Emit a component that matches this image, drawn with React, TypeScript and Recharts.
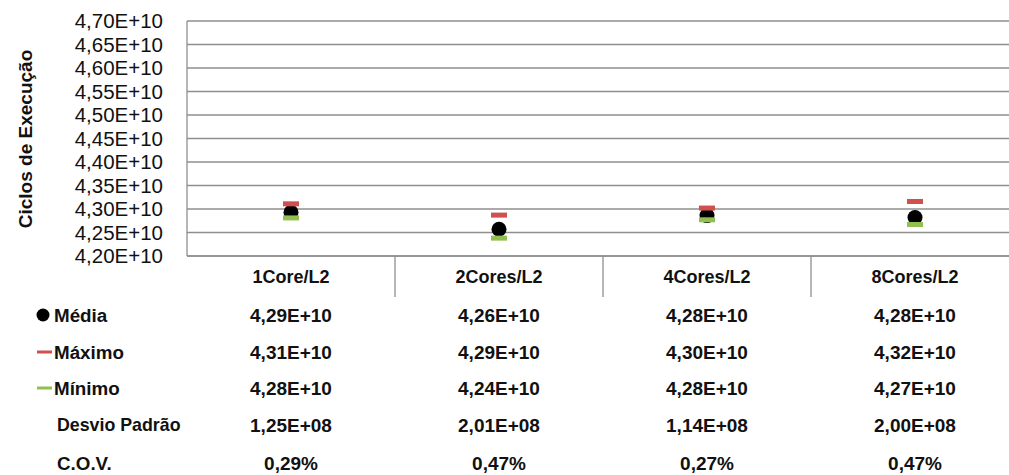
import React from 'react';
import { ComposedChart, Line, XAxis, YAxis, CartesianGrid } from 'recharts';

const categories = ['1Core/L2', '2Cores/L2', '4Cores/L2', '8Cores/L2'];
const mediaValues = [4.293e10, 4.257e10, 4.286e10, 4.282e10];
const maximoValues = [4.311e10, 4.287e10, 4.302e10, 4.316e10];
const minimoValues = [4.281e10, 4.238e10, 4.277e10, 4.267e10];

const mediaText = ['4,29E+10', '4,26E+10', '4,28E+10', '4,28E+10'];
const maximoText = ['4,31E+10', '4,29E+10', '4,30E+10', '4,32E+10'];
const minimoText = ['4,28E+10', '4,24E+10', '4,28E+10', '4,27E+10'];
const desvioText = ['1,25E+08', '2,01E+08', '1,14E+08', '2,00E+08'];
const covText = ['0,29%', '0,47%', '0,27%', '0,47%'];

const yTicks = [4.2e10, 4.25e10, 4.3e10, 4.35e10, 4.4e10, 4.45e10, 4.5e10, 4.55e10, 4.6e10, 4.65e10, 4.7e10];

const rowLabels = ['Média', 'Máximo', 'Mínimo', 'Desvio Padrão', 'C.O.V.'];

const data = categories.map((c, i) => ({
  cat: c,
  media: mediaValues[i],
  maximo: maximoValues[i],
  minimo: minimoValues[i],
}));

const FONT = "'Liberation Sans', Arial, sans-serif";
const GRID = '#8f8f8f';
const RED = '#d0504f';
const GREEN = '#92c050';
const TEXT = '#111111';

const ROW_OFFSETS = [59, 96, 132, 169, 207];

const fmtY = (v: number) => (v / 1e10).toFixed(2).replace('.', ',') + 'E+10';

const TableTick = (props: any) => {
  const { x, y, payload } = props;
  const i: number = payload?.index ?? props.index ?? 0;
  const half: number = payload?.offset || 104;
  const rows = [mediaText, maximoText, minimoText, desvioText, covText];
  return (
    <g>
      {i > 0 && <line x1={x - half} y1={y} x2={x - half} y2={y + 41} stroke={GRID} strokeWidth={1.3} />}
      {i === categories.length - 1 && (
        <line x1={x + half} y1={y} x2={x + half} y2={y + 41} stroke={GRID} strokeWidth={1.3} />
      )}
      <text x={x} y={y + 21} textAnchor="middle" dominantBaseline="central" fontFamily={FONT} fontSize={18} fontWeight={700} fill={TEXT}>
        {payload.value}
      </text>
      {rows.map((r, k) => (
        <text key={k} x={x} y={y + ROW_OFFSETS[k]} textAnchor="middle" dominantBaseline="central" fontFamily={FONT} fontSize={19} fontWeight={700} fill={TEXT}>
          {r[i]}
        </text>
      ))}
    </g>
  );
};

const makeDot = (kind: 'media' | 'max' | 'min') => (p: any) => {
  const { cx, cy, index } = p;
  if (cx == null || cy == null) return <g key={`${kind}-${index}`} />;
  if (kind === 'media') return <circle key={`${kind}-${index}`} cx={cx} cy={cy} r={7.5} fill="#000" />;
  return (
    <rect key={`${kind}-${index}`} x={cx - 8} y={cy - 2.5} width={16} height={5} fill={kind === 'max' ? RED : GREEN} />
  );
};

export default function App() {
  return (
    <div style={{ position: 'fixed', left: 0, top: 0, width: 1009, height: 475, overflow: 'hidden', background: '#fff' }}>
      <ComposedChart
        width={1030}
        height={475}
        data={data}
        margin={{ top: 21, right: 11, left: 0, bottom: 0 }}
      >
        <CartesianGrid vertical={false} stroke={GRID} strokeWidth={1.3} />
        <XAxis
          dataKey="cat"
          type="category"
          scale="band"
          height={219}
          axisLine={{ stroke: GRID, strokeWidth: 1.3 }}
          tickLine={false}
          tickSize={0}
          tickMargin={0}
          interval={0}
          tick={<TableTick />}
        />
        <YAxis
          type="number"
          domain={[4.2e10, 4.7e10]}
          ticks={yTicks}
          interval={0}
          allowDataOverflow
          width={187}
          axisLine={{ stroke: GRID, strokeWidth: 1.3 }}
          tickLine={false}
          tickSize={0}
          tickMargin={24}
          tickFormatter={fmtY}
          tick={{ fontFamily: FONT, fontSize: 20.5, fill: TEXT }}
        />
        <Line dataKey="media" stroke="none" isAnimationActive={false} dot={makeDot('media')} activeDot={false} />
        <Line dataKey="maximo" stroke="none" isAnimationActive={false} dot={makeDot('max')} activeDot={false} />
        <Line dataKey="minimo" stroke="none" isAnimationActive={false} dot={makeDot('min')} activeDot={false} />
      </ComposedChart>
      <svg width={187} height={475} style={{ position: 'absolute', left: 0, top: 0, pointerEvents: 'none' }}>
        <text
          transform="translate(25,139) rotate(-90)"
          textAnchor="middle"
          dominantBaseline="central"
          fontFamily={FONT}
          fontSize={19}
          fontWeight={700}
          fill={TEXT}
        >
          Ciclos de Execução
        </text>
        <circle cx={43} cy={315} r={6.5} fill="#000" />
        <rect x={37} y={350.5} width={15} height={3} fill={RED} />
        <rect x={37} y={386.5} width={15} height={3} fill={GREEN} />
        {rowLabels.map((l, k) => (
          <text
            key={k}
            x={k >= 3 ? 57 : 54}
            y={256 + ROW_OFFSETS[k]}
            dominantBaseline="central"
            fontFamily={FONT}
            fontSize={k === 3 ? 17.8 : 18.8}
            fontWeight={700}
            fill={TEXT}
          >
            {l}
          </text>
        ))}
      </svg>
    </div>
  );
}
